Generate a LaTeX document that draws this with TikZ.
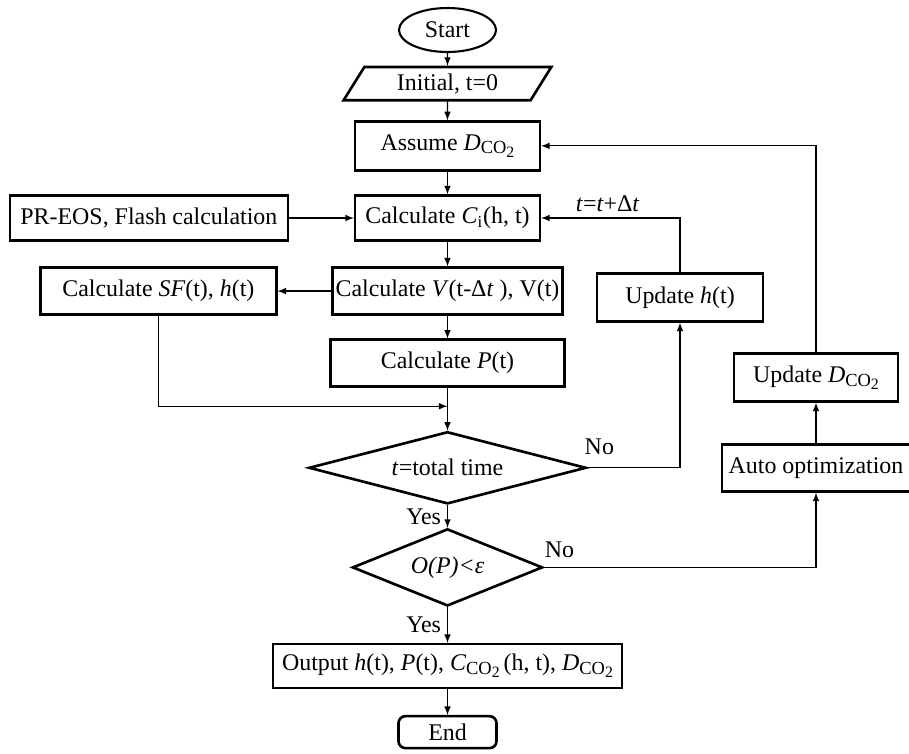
\documentclass[tikz,border=0pt]{standalone}
\usepackage{fontspec}
\setmainfont{Liberation Serif}
\usepackage{tikz}
\usetikzlibrary{positioning}
\usetikzlibrary{arrows,shapes.geometric}
\usetikzlibrary{calc}

\newcommand{\cotwo}{\raisebox{-0.35ex}{\fontsize{10.5}{11}\selectfont CO\raisebox{-0.4ex}{\fontsize{9}{10}\selectfont 2}}}
\newcommand{\dcotwo}{\textit{D}\cotwo}
\newcommand{\ccotwo}{\textit{C}\cotwo}

\begin{document}
\begin{tikzpicture}[>=latex,node distance=0.5cm,every node/.style={font=\fontsize{13.6}{16}\selectfont},
	box/.style={draw,line width=1.5pt,inner sep=0,outer sep=0.6pt,minimum height=0.9cm},
	decision/.style={draw,diamond,line width=1.5pt,inner sep=0,outer sep=0.6pt},
	flow/.style={line width=0.7pt}]
	\useasboundingbox (0,0) rectangle (18.18,-15.06);
	% main column
	\node (start) [draw,ellipse,line width=1.2pt,outer sep=0.5pt,minimum width=1.94cm,minimum height=0.88cm] at (8.95,-0.6) {Start};
	\node (init) [draw,trapezium,trapezium left angle=58,trapezium right angle=122,line width=1.5pt,inner sep=0,outer sep=0.6pt,minimum width=4.16cm,minimum height=0.62cm,below=0.26cm of start] {Initial, t=0};
	\node (assume) [box,minimum width=3.7cm,minimum height=0.98cm,below=0.38cm of init] {Assume \dcotwo};
	\node (ci) [box,minimum width=3.7cm,below=0.46cm of assume] {Calculate \textit{C}\textsubscript{i}(h, t)};
	\node (vol) [box,minimum width=4.6cm,minimum height=0.94cm,below=0.5cm of ci] {Calculate \textit{V}(t-Δ\textit{t} ), V(t)};
	\node (pres) [box,minimum width=4.68cm,minimum height=0.94cm,below=0.46cm of vol] {Calculate \textit{P}(t)};
	\node (ttot) [decision,aspect=3.8,minimum width=5.54cm,minimum height=1.44cm,below=0.86cm of pres] {\textit{t}=total time};
	\node (obj) [decision,aspect=2.4,minimum width=3.8cm,minimum height=1.54cm,below=0.46cm of ttot] {\textit{O(P)<ε}};
	\node (out) [box,minimum width=6.98cm,minimum height=0.88cm,below=0.72cm of obj] {Output \textit{h}(t), \textit{P}(t), \ccotwo\,(h, t), \dcotwo};
	\node (end) [box,rounded corners=4pt,minimum width=1.96cm,minimum height=0.64cm,below=0.52cm of out] {End};
	% side boxes
	\node (eos) [box,minimum width=5.56cm,left=1.3cm of ci] {PR-EOS, Flash calculation};
	\node (sf) [box,minimum width=4.72cm,minimum height=0.94cm,left=1.08cm of vol] {Calculate \textit{SF}(t), \textit{h}(t)};
	\node (uph) [box,minimum width=3.32cm,minimum height=0.96cm] at (13.6,-5.95) {Update \textit{h}(t)};
	\node (upd) [box,minimum width=3.28cm,minimum height=0.96cm] at (16.32,-7.55) {Update \dcotwo};
	\node (auto) [box,minimum width=3.76cm,minimum height=0.94cm] at (16.32,-9.36) {Auto optimization};
	\coordinate (join) at ($(pres.south)!0.43!(ttot.north)$);
	\path[->,flow]
		(start) edge (init)
		(init) edge (assume)
		(assume) edge (ci)
		(ci) edge (vol)
		(vol) edge (pres)
		(pres) edge (ttot)
		(ttot) edge node[left] {Yes} (obj)
		(obj) edge node[left] {Yes} (out)
		(out) edge (end)
		(eos) edge (ci)
		(vol) edge (sf)
		(auto) edge (upd);
	\draw[->,flow] (sf.south) |- (join);
	\draw[->,flow] (ttot.east) -| node[pos=0,above right,xshift=-5pt,yshift=4pt] {No} (uph.south);
	\draw[->,flow] (uph.north) |- node[pos=0.76,above] {\textit{t}=\textit{t}+Δ\textit{t}} (ci.east);
	\draw[->,flow] (obj.east) -| node[pos=0,above right,xshift=-3pt,yshift=2pt] {No} (auto.south);
	\draw[->,flow] (upd.north) |- (assume.east);
\end{tikzpicture}
\end{document}
